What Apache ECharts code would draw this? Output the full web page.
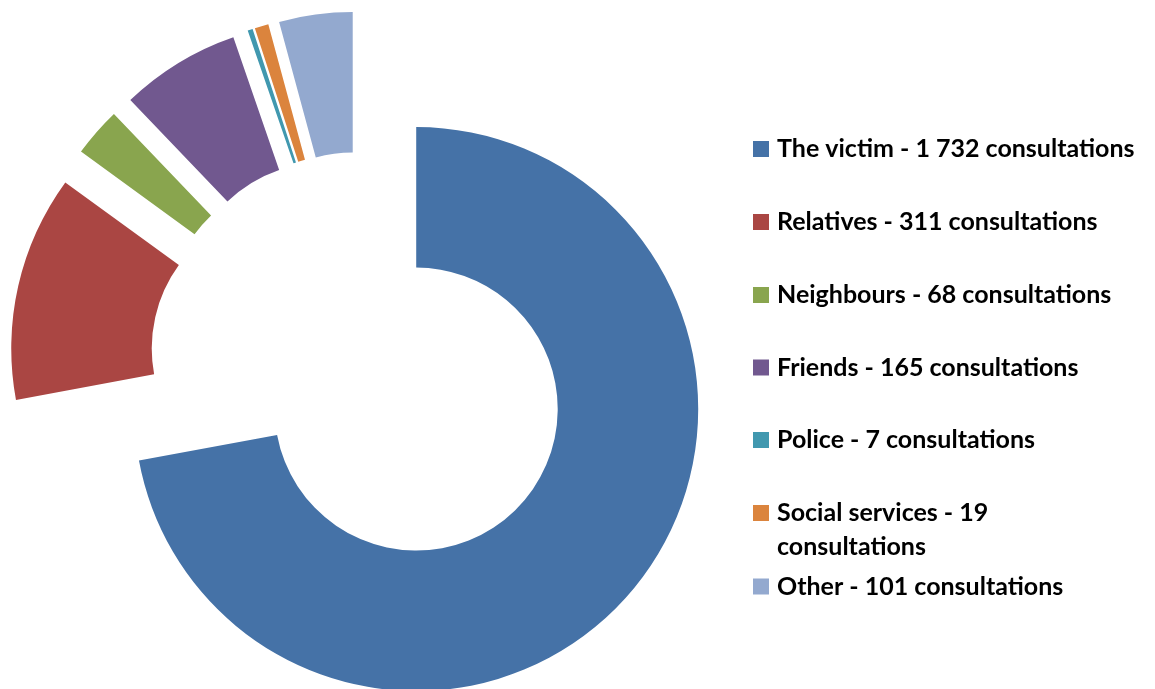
<!DOCTYPE html>
<html>
<head>
<meta charset="utf-8">
<script src="https://cdn.jsdelivr.net/npm/echarts@6/dist/echarts.min.js"></script>
<style>
html,body{margin:0;padding:0;background:#fff;}
#chart{width:1155px;height:689px;}
</style>
</head>
<body>
<div id="chart"></div>
<script>
var categories = ['The victim', 'Relatives', 'Neighbours', 'Friends', 'Police', 'Social services', 'Other'];
var values = [1732, 311, 68, 165, 7, 19, 101];
var colors = ['#4572A7', '#AA4643', '#89A54E', '#71588F', '#4198AF', '#DB843D', '#93A9CF'];
var legendCenters = [149, 222, 295, 367.5, 440, 513, 586.5];

function fmt(v) {
  return String(v).replace(/\B(?=(\d{3})+(?!\d))/g, ' ');
}

var chart = echarts.init(document.getElementById('chart'), null, {renderer: 'canvas'});

var LH = 34;
var legends = categories.map(function (name, i) {
  var text = name + ' - ' + fmt(values[i]) + ' consultations';
  var lines = 1;
  if (name === 'Social services') {
    text = ' \n' + name + ' - ' + fmt(values[i]) + '\nconsultations';
    lines = 3;
  }
  return {
    data: [name],
    left: 753,
    top: legendCenters[i] - LH * lines / 2,
    orient: 'vertical',
    padding: 0,
    itemWidth: 16,
    itemHeight: 16,
    icon: 'rect',
    selectedMode: false,
    formatter: function () { return text; },
    textStyle: {
      fontFamily: 'Lato',
      fontWeight: 'bold',
      fontSize: 25,
      color: '#000',
      lineHeight: LH,
      padding: [0, 0, 0, 3]
    }
  };
});

chart.setOption({
  animation: false,
  color: colors,
  legend: legends,
  series: [{
    type: 'pie',
    center: [362, 364],
    radius: [141.5, 282],
    startAngle: 90,
    clockwise: true,
    selectedMode: 'multiple',
    selectedOffset: 70.5,
    label: {show: false},
    labelLine: {show: false},
    emphasis: {scale: false},
    select: {itemStyle: {borderWidth: 0}},
    itemStyle: {borderWidth: 0},
    data: categories.map(function (name, i) {
      return {name: name, value: values[i], selected: true};
    })
  }]
});
</script>
</body>
</html>
